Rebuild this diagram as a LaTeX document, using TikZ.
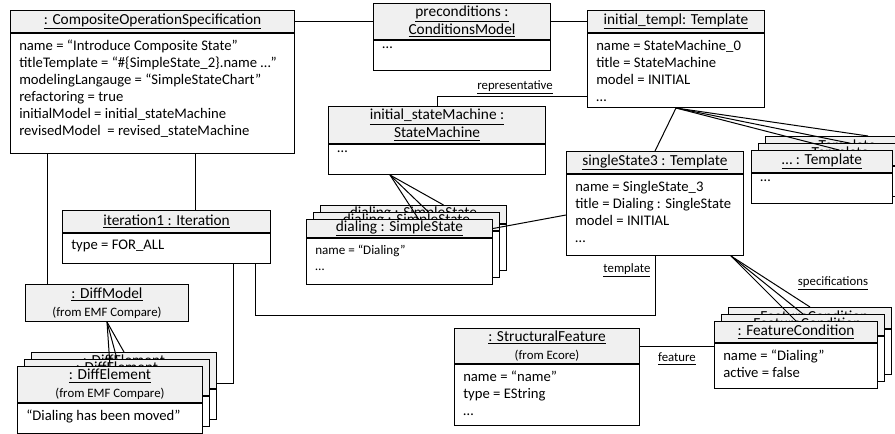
\documentclass[tikz,border=0pt]{standalone}
\usepackage{fontspec}
\setmainfont{Carlito}
\usetikzlibrary{calc}

\tikzset{
  head/.style={draw, fill=black!6, line width=0.75pt, anchor=north west, inner sep=0pt, align=center, font=\fontsize{11.5}{13.5}\selectfont},
  body/.style={draw, fill=white, line width=0.75pt, anchor=north west, inner sep=0pt},
  txt/.style={anchor=north west, inner sep=0pt, align=left, font=\fontsize{11}{12.75}\selectfont},
  lbl/.style={inner sep=1pt, font=\fontsize{9.6}{11}\selectfont},
  link/.style={line width=0.75pt},
}
\newcommand{\fromtxt}[1]{{\fontsize{9.6}{11}\selectfont #1}}
% [text options]{name}{x}{y}{width}{head height}{body height}{title}{body}
\newcommand{\obj}[9][]{%
  \node[head, minimum width={#5*0.75pt}, minimum height={#6*0.75pt}] (#2) at (#3,#4) {#8};
  \node[body, minimum width={#5*0.75pt}, minimum height={#7*0.75pt}] (#2-b) at (#2.south west) {};
  \node[txt,#1] (#2-t) at ([shift={(9,7)}]#2-b.north west) {#9};
}

\begin{document}
\begin{tikzpicture}[x=0.75pt,y=-0.75pt]
\useasboundingbox (0,0) rectangle (895,433);

\obj{cos}{10}{10}{284}{22}{120}{\underline{: CompositeOperationSpecification}}
  {name = “Introduce Composite State”\\
   titleTemplate = “\#\{SimpleState\_2\}.name …”\\
   modelingLangauge = “SimpleStateChart”\\
   refactoring = true\\
   initialModel = initial\_stateMachine\\
   revisedModel~ = revised\_stateMachine}
\obj{pre}{373}{3}{177}{36}{30}{\underline{preconditions :}\\\underline{ConditionsModel}}{…}
\obj{itp}{587}{10}{177}{22}{74}{\underline{initial\_templ: Template}}
  {name = StateMachine\_0\\title = StateMachine\\model = INITIAL\\…}
\obj{ism}{328}{106}{217}{37}{30}{\underline{initial\_stateMachine :}\\\underline{StateMachine}}{…}
\obj{ss3}{566}{151}{177}{22}{81}{\underline{singleState3 : Template}}
  {name = SingleState\_3\\title = Dialing : SingleState\\model = INITIAL\\…}
\obj{it1}{62}{210}{208}{22}{30}{\underline{iteration1 : Iteration}}{type = FOR\_ALL}
\obj{sf}{454}{328}{185}{35}{61}{\underline{: StructuralFeature}\\\fromtxt{(from Ecore)}}
  {name = “name”\\type = EString\\…}

% stacks, back to front
\foreach \d/\n in {14/3,7/2,0/} {
  \obj[font=\fontsize{9.8}{12}\selectfont]{dl\n}{306+\d}{219-\d}{186}{18}{46}{\underline{dialing : SimpleState}}{name = “Dialing”\\…}
  \obj{tpl\n}{751+\d}{150-\d}{141}{22}{30}{\underline{… : Template}}{…}
  \obj{fc\n}{714+\d}{321-\d}{163}{21}{45}{\underline{: FeatureCondition}}{name = “Dialing”\\active = false}
  \obj{de\n}{17+\d}{366-\d}{185}{36}{30}{\underline{: DiffElement}\\\fromtxt{(from EMF Compare)}}{“Dialing has been moved”}
}
\node[head, minimum width={163*0.75pt}, minimum height={37*0.75pt}] (dm) at (25,284) {\underline{: DiffModel}\\\fromtxt{(from EMF Compare)}};

% links
\draw[link] (cos.east) -- (pre.west);
\draw[link] (pre.east) -- (itp.west);
\draw[link] (ism.north) |- ([shift={(0,-12)}]itp-b.south west) node[lbl, pos=0.76, above] (rep) {\underline{representative}};
\draw[link] (itp-b.south) -- (ss3.north);
\foreach \n/\s in {/17,2/20,3/32} \draw[link] (itp-b.south) -- ([shift={(\s,0)}]tpl\n.north);
\foreach \n/\s in {/19,2/22,3/30} \draw[link] ([shift={(62,0)}]ism-b.south west) -- ([shift={(\s,0)}]dl\n.north);
\draw[link] (ss3-b.west) -- (dl.east);
\foreach \n in {,2,3} \draw[link] (dm.south) -- (de\n.north);
\foreach \n in {,2,3} \draw[link] ([shift={(-13,0)}]ss3-b.south east) -- (fc\n.north);
\node[lbl] (spec) at (833,283) {\underline{specifications}};
\draw[link] ([shift={(37,0)}]cos-b.south west) coordinate (c1) -- (c1 |- dm.north);
\draw[link] ([shift={(185,0)}]cos-b.south west) coordinate (c2) -- (c2 |- it1.north);
\draw[link] ([shift={(-38,0)}]it1-b.south east) |- ([shift={(0,13)}]de3.east);
\draw[link] ([shift={(-16,0)}]it1-b.south east) -- ++(0,51) -| (ss3-b.south);
\node[lbl, anchor=north east] (tmpl) at ([shift={(-3,6)}]ss3-b.south) {\underline{template}};
\draw[link] (sf.east) -- (sf.east -| fc.west) node[lbl, midway, below=4pt] (feat) {\underline{feature}};

\end{tikzpicture}
\end{document}
